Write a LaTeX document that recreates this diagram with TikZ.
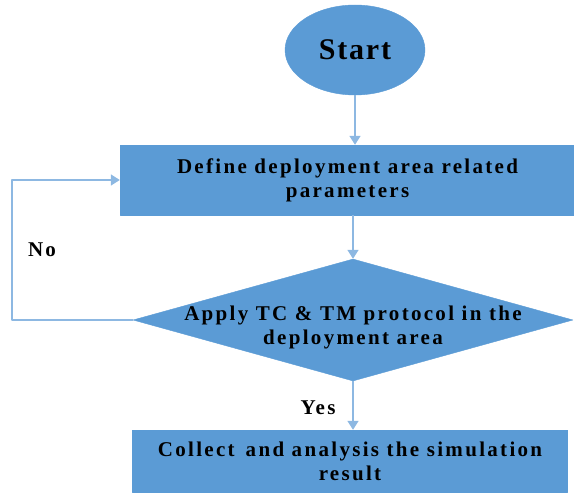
\documentclass[tikz,border=0pt]{standalone}
\usepackage{fontspec}
\setmainfont{Liberation Serif}
\usetikzlibrary{shapes.geometric,arrows.meta,positioning}
\definecolor{boxblue}{HTML}{5B9BD5}
\definecolor{lineblue}{HTML}{8DB8E2}
\begin{document}
\begin{tikzpicture}[x=1pt,y=1pt,>={Triangle[width=11pt,length=9pt]},line join=round,
	font=\bfseries\addfontfeature{LetterSpace=11}\fontsize{21}{24}\selectfont,
	blueshape/.style={fill=boxblue,draw=boxblue,inner sep=0pt,align=center},
	startnode/.style={blueshape,ellipse,minimum width=140,minimum height=90},
	procbox/.style={blueshape,rectangle,minimum height=70},
	decision/.style={blueshape,diamond,minimum width=440,minimum height=122,aspect=3.6},
	flow/.style={->,draw=lineblue,line width=1.6pt}]
				\useasboundingbox (0,0) rectangle (574,499);
				\node[startnode,font=\bfseries\addfontfeature{LetterSpace=6}\fontsize{30}{34}\selectfont] (start) at (355,449) {Start};
				\node[procbox,minimum width=455] (define) at (347.5,319) {Define deployment area related\\parameters};
				\node[decision] (apply) at (353,179) {};
				\node[align=center] (applytext) at (353,172) {Apply TC \& TM protocol in the\\deployment area};
				\node[procbox,minimum width=435,minimum height=62] (collect) at (350,38) {Collect\, and analysis the simulation\\result};
				\coordinate (loopx) at (12,0);
				\draw[flow] (start.south) -- (start.south |- define.north);
				\draw[flow] (apply.north |- define.south) -- (apply.north);
				\draw[flow] (apply.south) -- (apply.south |- collect.north);
				\draw[flow] (apply.west) -- (apply.west -| loopx) |- (define.west);
				\node (no) at (42,249) {No};
				\node (yes) at (318,91) {Yes};
			\end{tikzpicture}
\end{document}
